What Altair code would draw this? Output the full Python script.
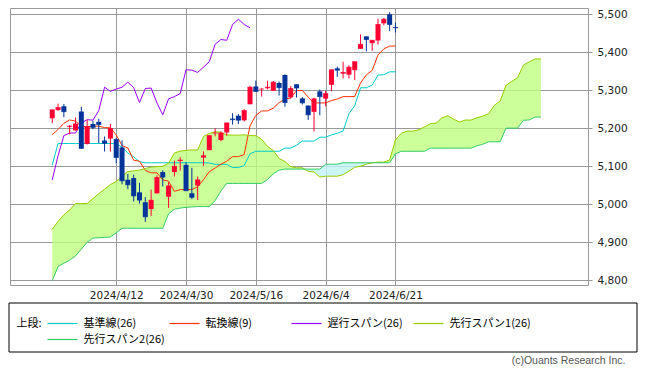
import altair as alt
import pandas as pd

# ---------------- data ----------------
dates = ["2024/3/27", "2024/3/28",
         "2024/4/1", "2024/4/2", "2024/4/3", "2024/4/4", "2024/4/5", "2024/4/8", "2024/4/9", "2024/4/10",
         "2024/4/11", "2024/4/12", "2024/4/15", "2024/4/16", "2024/4/17", "2024/4/18", "2024/4/19",
         "2024/4/22", "2024/4/23", "2024/4/24", "2024/4/25", "2024/4/26", "2024/4/29", "2024/4/30",
         "2024/5/1", "2024/5/2", "2024/5/3", "2024/5/6", "2024/5/7", "2024/5/8", "2024/5/9", "2024/5/10",
         "2024/5/13", "2024/5/14", "2024/5/15", "2024/5/16", "2024/5/17", "2024/5/20", "2024/5/21",
         "2024/5/22", "2024/5/23", "2024/5/24", "2024/5/28", "2024/5/29", "2024/5/30", "2024/5/31",
         "2024/6/3", "2024/6/4", "2024/6/5", "2024/6/6", "2024/6/7", "2024/6/10", "2024/6/11",
         "2024/6/12", "2024/6/13", "2024/6/14", "2024/6/17", "2024/6/18", "2024/6/20", "2024/6/21"]

opens = [5226.3, 5248.0,
         5258.0, 5204.3, 5194.4, 5244.1, 5158.9, 5211.4, 5217.0, 5167.9, 5173.0, 5171.5, 5149.7, 5064.6,
         5069.0, 5031.5, 5005.4, 4987.3, 5028.9, 5084.7, 5019.9, 5084.9, 5114.1, 5103.8,
         5029.0, 5049.3, 5122.8, 5142.4, 5187.2, 5169.0, 5189.0, 5225.5, 5233.1, 5221.1, 5263.3, 5310.1,
         5303.1, 5305.4, 5298.7, 5319.3, 5340.3, 5281.5, 5315.9, 5278.7, 5259.8, 5243.2,
         5297.2, 5278.2, 5314.5, 5357.8, 5343.8, 5341.2, 5353.0, 5409.1, 5441.9, 5424.1, 5431.1, 5476.2,
         5500.0, 5466.8]
highs = [5249.3, 5264.9,
         5264.0, 5208.3, 5228.8, 5256.6, 5222.2, 5219.6, 5224.8, 5178.4, 5211.8, 5175.0, 5168.4, 5079.8,
         5078.0, 5056.7, 5019.0, 5038.8, 5076.1, 5089.5, 5057.8, 5114.6, 5123.5, 5110.8,
         5096.1, 5073.2, 5139.1, 5181.0, 5200.2, 5192.0, 5215.3, 5239.7, 5237.3, 5250.4, 5311.8, 5325.5,
         5305.5, 5325.3, 5324.3, 5323.2, 5341.9, 5311.6, 5315.9, 5282.3, 5260.2, 5280.3,
         5302.1, 5298.8, 5354.2, 5362.4, 5375.1, 5365.8, 5376.0, 5447.3, 5441.9, 5432.4, 5488.5, 5490.4,
         5505.5, 5478.3]
lows = [5213.9, 5245.8,
        5229.2, 5184.1, 5194.4, 5146.1, 5157.2, 5197.4, 5160.8, 5138.7, 5138.8, 5107.9, 5052.5, 5039.8,
        5007.3, 5001.9, 4953.6, 4969.4, 5028.0, 5047.0, 4990.6, 5073.1, 5088.7, 5035.3,
        5013.5, 5011.1, 5101.2, 5142.4, 5179.0, 5165.9, 5180.4, 5209.7, 5211.0, 5218.0, 5263.0, 5296.2,
        5283.6, 5302.4, 5297.9, 5286.0, 5256.9, 5278.4, 5280.9, 5262.7, 5222.1, 5191.7,
        5234.3, 5257.6, 5297.6, 5335.4, 5331.3, 5331.5, 5327.3, 5409.1, 5402.5, 5403.8, 5420.4, 5471.3,
        5455.6, 5452.0]
closes = [5248.5, 5254.4,
          5243.8, 5205.8, 5211.5, 5147.2, 5204.3, 5202.4, 5209.9, 5160.6, 5199.1, 5123.4, 5061.8, 5051.4,
          5022.2, 5011.1, 4967.2, 5010.6, 5070.6, 5071.6, 5048.4, 5100.0, 5116.2, 5035.7,
          5018.4, 5064.2, 5127.8, 5180.7, 5187.7, 5187.7, 5214.1, 5222.7, 5221.4, 5246.7, 5308.2, 5297.1,
          5303.3, 5308.1, 5321.4, 5307.0, 5267.8, 5304.7, 5306.0, 5267.0, 5235.5, 5277.5,
          5283.4, 5291.3, 5354.0, 5353.0, 5347.0, 5360.8, 5375.3, 5421.0, 5433.7, 5431.6, 5473.2, 5487.0,
          5473.2, 5464.6]

tenkan = [5183, 5197, 5213, 5222, 5219, 5205, 5204, 5205.5, 5205.5, 5201.8, 5201.4,
          5182.3, 5154.6, 5148.2, 5116.0, 5113.4, 5089.2, 5082.7, 5082.7, 5064.3, 5061.0, 5034.1,
          5038.6, 5038.6, 5038.6, 5046.5, 5064.9, 5085.8, 5095.4, 5105.7, 5113.2, 5125.4, 5125.4,
          5130.8, 5206.5, 5234.0, 5245.7, 5245.7, 5253.0, 5267.6, 5276.5, 5280.0, 5299.4, 5299.4,
          5282.0, 5266.8, 5266.8, 5266.8, 5273.0, 5277.0, 5283.4, 5283.4, 5283.8, 5319.5, 5340.8,
          5352.4, 5393.1, 5408.8, 5416.4, 5416.4]
kijun = [5103, 5160, 5160, 5160, 5160, 5160, 5160, 5160, 5160, 5160, 5160,
         5160, 5150, 5135, 5125, 5112, 5109.3, 5109.3, 5109.3, 5109.3, 5109.3, 5109.3,
         5109.3, 5109.3, 5109.3, 5109.3, 5109.3, 5108.8, 5105.1, 5105.1, 5105.1, 5096.7, 5096.7,
         5102.0, 5132.7, 5139.6, 5139.6, 5139.6, 5139.6, 5139.6, 5147.8, 5147.8, 5155.7, 5166.3,
         5166.3, 5166.3, 5176.5, 5176.5, 5182.7, 5186.7, 5193.1, 5238.2, 5259.2, 5306.6, 5306.6,
         5313.8, 5340.1, 5341.1, 5348.6, 5348.6]
span1 = [4934, 4955, 4972, 4985, 5002, 5002, 5002, 5015, 5028, 5040, 5052,
         5060, 5075, 5086, 5088, 5090, 5094, 5098, 5099, 5100, 5108, 5135, 5140, 5142, 5143,
         5143, 5178.5, 5186.5, 5191, 5189.5, 5182.5, 5182, 5182, 5182.8, 5180.9, 5180.7,
         5171.2, 5152.3, 5141.6, 5120.5, 5112.7, 5099.2, 5096, 5096, 5086.8, 5085.1, 5071.7,
         5073.9, 5073.9, 5073.9, 5077.9, 5087.1, 5097.3, 5100.3, 5105.4, 5109.2, 5111, 5111, 5116.4,
         5169.6, 5186.8, 5192.6, 5192.6, 5196.3, 5203.6, 5212.1, 5213.9, 5227.5, 5232.8, 5224.1,
         5216.5, 5221.7,
         5221.7, 5227.8, 5231.9, 5238.3, 5260.8, 5271.5, 5313, 5323.7, 5333.1, 5366.6, 5374.9,
         5382.5, 5382.5]
span2 = [4799, 4836, 4845, 4853, 4864, 4882, 4900, 4911, 4912, 4913, 4914,
         4925, 4937, 4937, 4937, 4937, 4937, 4937, 4937, 4937,
         4975, 4987, 4990, 4992, 4993, 4994, 4994, 4994,
         5010, 5035, 5055, 5055, 5055, 5055, 5055, 5055, 5055, 5065, 5080, 5090,
         5092.6, 5092.6, 5092.6, 5092.6, 5092.6, 5092.6, 5092.6,
         5105.5, 5105.5, 5105.5,
         5109.3, 5109.3, 5109.3, 5109.3, 5109.3, 5109.3, 5109.3, 5109.3, 5109.3,
         5132.7, 5139.6, 5139.6, 5139.6, 5139.6, 5139.6,
         5147.8, 5147.8, 5147.8, 5147.8, 5147.8, 5147.8, 5147.8, 5147.8,
         5153.9, 5158.0, 5164.4, 5164.4, 5164.8,
         5200.4, 5200.4, 5200.4, 5221.1, 5222.0, 5229.6, 5229.6]

series_names = ["基準線(26)", "転換線(9)", "遅行スパン(26)", "先行スパン1(26)", "先行スパン2(26)"]
series_colors = ["#00cccc", "#ff3300", "#9900ff", "#99cc00", "#33cc66"]
tick_dates = ["2024/4/12", "2024/4/30", "2024/5/16", "2024/6/4", "2024/6/21"]
y_ticks = [4800, 4900, 5000, 5100, 5200, 5300, 5400, 5500]
legend_title = "上段:"
credit = "(c)Ouants Research Inc."

UP = "#ff0033"
DOWN = "#003399"
CLOUD = "#bfff80"
CLOUD_INV = "#bff2f2"
GRID = "#999999"
JP = "Noto Sans CJK JP"

# ---------------- tables ----------------
base = dates.index("2024/4/12")
idx = [k - base for k in range(len(dates))]
lag = 25
cloud_idx = list(range(idx[0], idx[-1] + lag + 1))

candles = pd.DataFrame({"i": idx, "o": opens, "h": highs, "l": lows, "c": closes})
cloud = pd.DataFrame({"i": cloud_idx, "s1": span1, "s2": span2})

rows = []
rows += [(i, v, series_names[0]) for i, v in zip(idx, kijun)]
rows += [(i, v, series_names[1]) for i, v in zip(idx, tenkan)]
rows += [(i, v, series_names[2]) for i, v in zip(idx, closes[lag:])]
rows += [(i, v, series_names[3]) for i, v in zip(cloud_idx, span1)]
rows += [(i, v, series_names[4]) for i, v in zip(cloud_idx, span2)]
lines = pd.DataFrame(rows, columns=["i", "v", "series"])

tick_idx = [dates.index(d) - base for d in tick_dates]
label_expr = "''"
for ti, lab in reversed(list(zip(tick_idx, tick_dates))):
    label_expr = f"datum.value == {ti} ? '{lab}' : " + label_expr

# ---------------- scales / axes ----------------
xs = alt.Scale(domain=[-17.4, 80.24], nice=False, zero=False)
ys = alt.Scale(domain=[4787.6, 5516.6], nice=False, zero=False)
xaxis = alt.Axis(values=tick_idx, labelExpr=label_expr, grid=True, gridColor=GRID, ticks=False,
                 domain=False, labelPadding=5, title=None, labelFlush=False)
yaxis = alt.Axis(orient="right", values=y_ticks, labelExpr="format(datum.value, ',.0f')",
                 grid=True, gridColor=GRID,
                 tickSize=4, tickColor=GRID, domain=False, labelPadding=5, title=None)

X = alt.X("i:Q", scale=xs, axis=xaxis)


def Y(field):
    return alt.Y(field, scale=ys, axis=yaxis)


cloud_up = alt.Chart(cloud).transform_calculate(lo="min(datum.s1, datum.s2)").mark_area(
    color=CLOUD, opacity=0.8).encode(x=X, y=Y("s1:Q"), y2="lo:Q")
cloud_dn = alt.Chart(cloud).transform_calculate(lo="min(datum.s1, datum.s2)").mark_area(
    color=CLOUD_INV, opacity=0.8).encode(x=X, y=Y("s2:Q"), y2="lo:Q")

legend = alt.Legend(
    title=legend_title, orient="none", legendX=6.5, legendY=309.5, direction="horizontal",
    columns=4, gridAlign="all", columnPadding=2, rowPadding=5,
    symbolType="M-3,0H3", symbolSize=100, symbolStrokeWidth=1.2, labelOffset=15,
    labelFont=JP, labelFontSize=11, labelColor="#000000", labelLimit=200,
    titleFont=JP, titleFontSize=11, titleFontWeight="normal", titleColor="#000000",
    titleOrient="left", titleAnchor="start", titleBaseline="top", titlePadding=14, padding=0)

line_layer = alt.Chart(lines).mark_line(strokeWidth=1, clip=True).encode(
    x=X, y=Y("v:Q"),
    color=alt.Color("series:N", scale=alt.Scale(domain=series_names, range=series_colors), legend=legend))

cond = alt.condition("datum.c >= datum.o", alt.value(UP), alt.value(DOWN))
wick = alt.Chart(candles).mark_rule(strokeWidth=1).encode(x=X, y=Y("l:Q"), y2="h:Q", color=cond)
body = alt.Chart(candles).mark_bar(size=5).encode(x=X, y=Y("o:Q"), y2="c:Q", color=cond)
edge = alt.Chart(candles).mark_tick(thickness=1, size=5, orient="horizontal").encode(
    x=X, y=Y("c:Q"), color=cond)

box = alt.Chart(pd.DataFrame({"k": [0]})).mark_rect(
    fill="white", fillOpacity=0, stroke="black", strokeWidth=1).encode(
    x=alt.value(-1), x2=alt.value(627), y=alt.value(295), y2=alt.value(344))

chart = alt.layer(cloud_up, cloud_dn, line_layer, wick, body, edge, box).properties(
    width=578, height=277,
    padding={"left": 0, "top": 0, "right": 0, "bottom": 0},
    title=alt.TitleParams(credit, orient="bottom", anchor="end", frame="bounds", fontSize=10.5,
                          font="Liberation Sans", fontWeight="normal", color="#555555",
                          offset=3, dx=-12),
).configure_axis(
    labelFont="DejaVu Sans", labelFontSize=10.5, labelColor="#222222"
).configure_view(stroke=GRID, strokeWidth=1)

chart.save("out.html", embed_options={"renderer": "svg", "actions": False})
